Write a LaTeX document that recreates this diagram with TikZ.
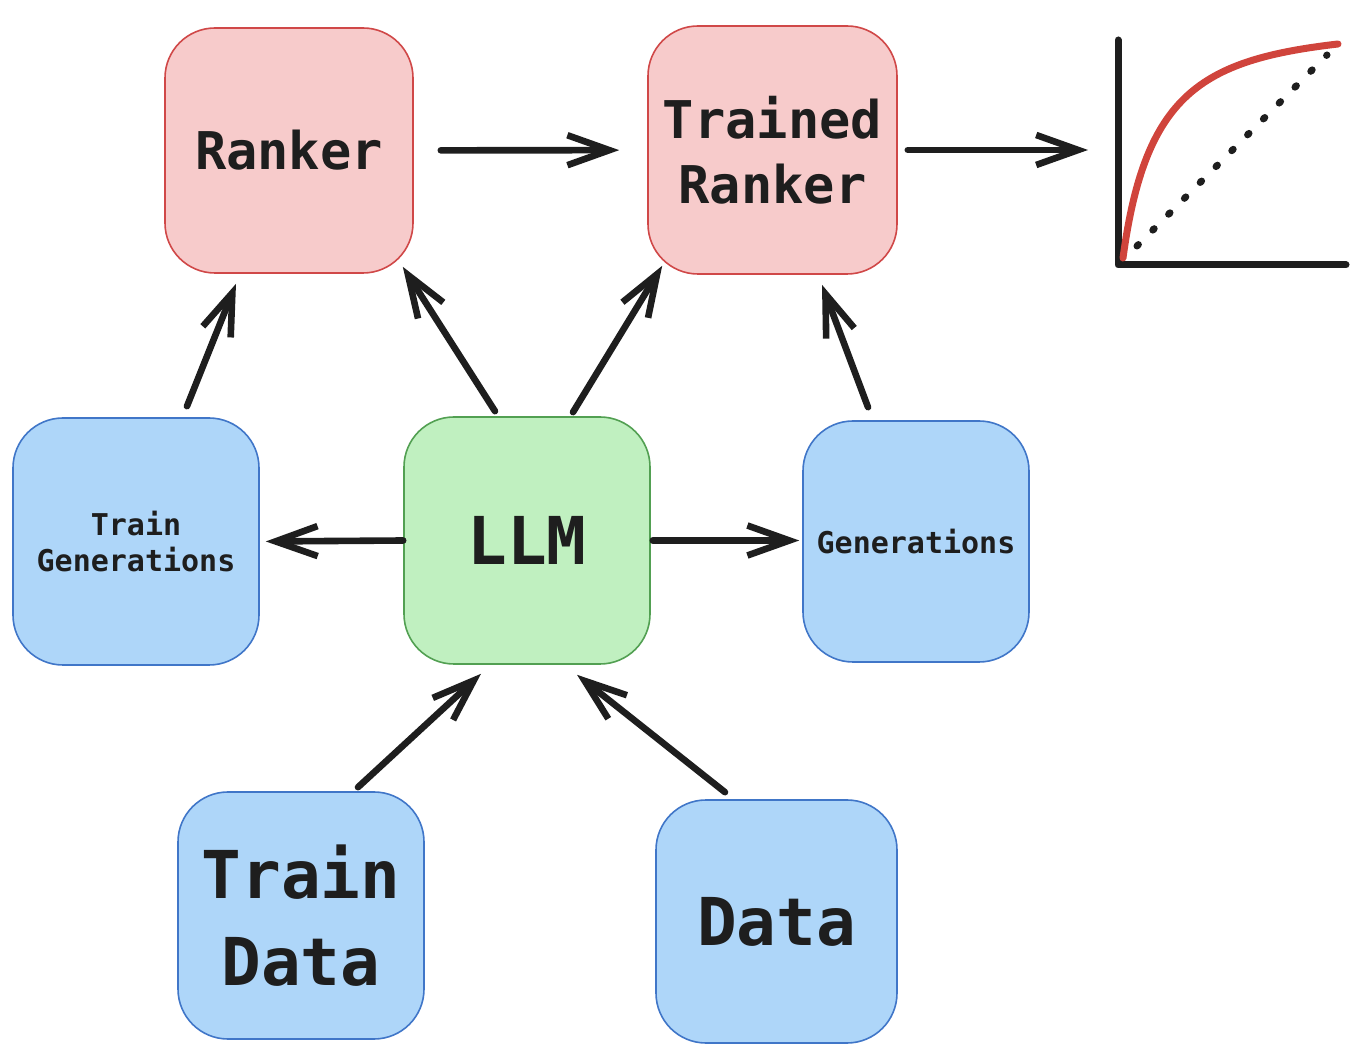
\documentclass[tikz,border=0pt]{standalone}
\usepackage{fontspec}
\setmonofont{DejaVu Sans Mono}
\usetikzlibrary{arrows.meta,calc}

\definecolor{ink}{HTML}{1E1E1E}
\definecolor{pinkfill}{HTML}{F7CBCB}
\definecolor{pinkline}{HTML}{D04848}
\definecolor{greenfill}{HTML}{C0F0C0}
\definecolor{greenline}{HTML}{52A052}
\definecolor{bluefill}{HTML}{AED6F9}
\definecolor{blueline}{HTML}{4076C8}
\definecolor{curvered}{HTML}{D0443C}

\begin{document}
\begin{tikzpicture}[x=0.5pt, y=-0.5pt,
  box/.style={rounded corners=25pt, line width=0.8pt, align=center, text=ink, inner sep=0pt},
  redbox/.style={box, draw=pinkline, fill=pinkfill},
  greenbox/.style={box, draw=greenline, fill=greenfill},
  bluebox/.style={box, draw=blueline, fill=bluefill},
  midtxt/.style={font=\ttfamily\bfseries\fontsize{26}{32.5}\selectfont},
  bigtxt/.style={font=\ttfamily\bfseries\fontsize{33}{43.5}\selectfont},
  smalltxt/.style={font=\ttfamily\bfseries\fontsize{15}{18}\selectfont},
  arr/.style={-{Straight Barb[length=21pt,width=15pt]}, line width=3.3pt, line cap=round, line join=round, draw=ink}]
  \useasboundingbox (0,0) rectangle (1366,1058);

  \node[redbox, midtxt, minimum width=124pt, minimum height=122.5pt] (ranker) at (289,150.5) {Ranker};
  \node[redbox, midtxt, minimum width=124.5pt, minimum height=124pt] (tranker) at (772.5,150) {Trained\\Ranker};
  \node[bluebox, smalltxt, minimum width=123pt, minimum height=123.5pt] (tgen) at (136,541.5) {Train\\Generations};
  \node[greenbox, bigtxt, minimum width=123pt, minimum height=123.5pt] (llm) at (527,540.5) {LLM};
  \node[bluebox, smalltxt, minimum width=113pt, minimum height=120.5pt] (gen) at (916,541.5) {Generations};
  \node[bluebox, bigtxt, minimum width=123pt, minimum height=123.5pt] (tdata) at (301,915.5) {Train\\Data};
  \node[bluebox, bigtxt, minimum width=120.5pt, minimum height=121.5pt] (data) at (776.5,921.5) {Data};
  \coordinate (roc) at (1118,150);

  \draw[arr, shorten <=13.5pt, shorten >=14pt] (ranker) -- (tranker);
  \draw[arr, shorten <=5pt, shorten >=15pt] (tranker.east) -- (roc);
  \draw[arr] ($(llm.north)+(-32,-5)$) -- ($(ranker.south east)+(-11,-7)$);
  \draw[arr] ($(llm.north)+(46,-4)$) -- ($(tranker.south west)+(15,-9)$);
  \draw[arr] ($(tgen.north)+(51,-11)$) -- ($(ranker.south)+(-53,10)$);
  \draw[arr] ($(gen.north)+(-48,-13)$) -- ($(tranker.south)+(49.5,10)$);
  \draw[arr, shorten >=3pt] (llm.west) -- (tgen.east);
  \draw[arr, shorten <=1pt, shorten >=1.5pt] (llm.east) -- (llm.east -| gen.west);
  \draw[arr] ($(tdata.north)+(57,-4)$) -- ($(llm.south)+(-46,9)$);
  \draw[arr] ($(data.north)+(-51.5,-7)$) -- ($(llm.south)+(50,10)$);

  \draw[ink, line width=3.5pt, line cap=round, line join=round] (1118,40) -- (1118,265) -- (1346,265);
  \draw[ink, line width=3.5pt, line cap=round, dash pattern=on 1pt off 10.2pt] (1137,246) -- (1327,55);
  \draw[curvered, line width=3.5pt, line cap=round] (1123,258) .. controls (1145,95) and (1200,60) .. (1338,44);
\end{tikzpicture}
\end{document}
